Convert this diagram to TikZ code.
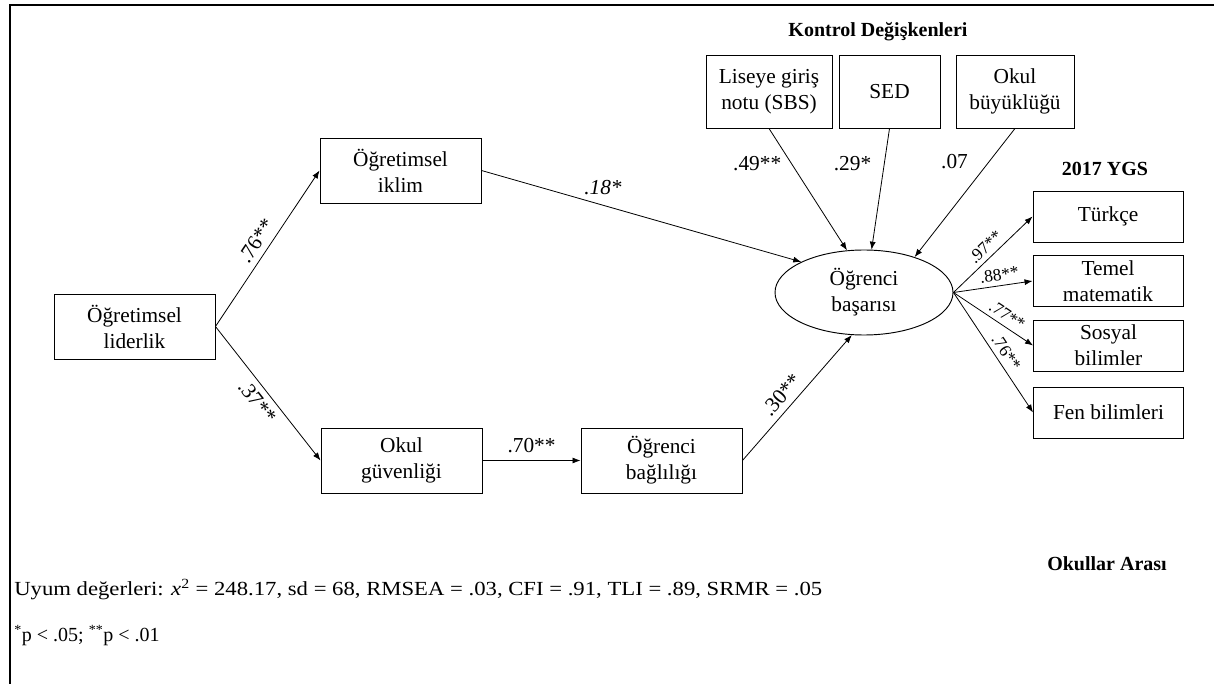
\documentclass[tikz,border=0pt]{standalone}
\usepackage{fontspec}
\setmainfont{Liberation Serif}
\usetikzlibrary{arrows.meta,shapes.geometric}
\begin{document}
\begin{tikzpicture}[x=0.75pt,y=-0.75pt,
  every node/.style={inner sep=0pt},
  box/.style={draw, line width=0.7pt, align=center, font=\fontsize{16}{19.5}\selectfont},
  leftbox/.style={box, minimum width=120.75pt, minimum height=48.75pt},
  ctrlbox/.style={box, minimum height=54.75pt},
  ygsbox/.style={box, minimum width=112.5pt, minimum height=38.25pt},
  arr/.style={-{Latex[length=6pt,width=4.5pt]}, line width=0.6pt},
  lab/.style={font=\fontsize{16}{19}\selectfont, inner sep=1.5pt},
  slab/.style={font=\fontsize{13}{15}\selectfont, inner sep=1.5pt},
  ttl/.style={font=\fontsize{15}{18}\selectfont\bfseries},
  foot/.style={font=\fontsize{15}{18}\selectfont, anchor=west}]
\useasboundingbox (0,0) rectangle (1214,684);
% frame
\draw[line width=2pt] (10,684) -- (10,5) -- (1214,5);

% titles
\node[ttl] (tkontrol) at (878,32) {Kontrol Değişkenleri};
\node[ttl] (tygs) at (1105,169) {2017 YGS};
\node[ttl] (tokul) at (1107,564) {Okullar Arası};

% left boxes
\node[leftbox] (lid) at (134.5,326.5) {Öğretimsel\\liderlik};
\node[leftbox] (ikl) at (400.5,170.5) {Öğretimsel\\iklim};
\node[leftbox] (guv) at (401.5,460.5) {Okul\\güvenliği};
\node[leftbox] (bag) at (661.5,460.5) {Öğrenci\\bağlılığı};

% control boxes
\node[ctrlbox, minimum width=94.5pt] (sbs) at (769,91.5) {Liseye giriş\\notu (SBS)};
\node[ctrlbox, minimum width=75.75pt] (sed) at (889.5,91.5) {SED};
\node[ctrlbox, minimum width=88.5pt] (buy) at (1015,91.5) {Okul\\büyüklüğü};

% outcome ellipse
\node[draw, ellipse, line width=0.7pt, minimum width=133.5pt, minimum height=63.75pt, align=center,
      font=\fontsize{16}{19.5}\selectfont] (ell) at (864,292.5) {Öğrenci\\başarısı};

% YGS boxes
\node[ygsbox] (tur) at (1108,216.5) {Türkçe};
\node[ygsbox] (mat) at (1108,281) {Temel\\matematik};
\node[ygsbox] (sos) at (1108.5,345.5) {Sosyal\\bilimler};
\node[ygsbox] (fen) at (1108.5,412.5) {Fen bilimleri};

% paths
\draw[arr] (lid.east) -- node[lab, sloped, above=3pt, pos=0.5] {.76**} (ikl.west);
\draw[arr] (lid.east) -- node[lab, sloped, below=3pt, pos=0.5] {.37**} (guv.west);
\draw[arr] (ikl.east) -- node[lab, above=6pt, pos=0.38] {\textit{.18*}} (ell.154);
\draw[arr] (guv.east) -- node[lab, above=4pt, pos=0.5] {.70**} (bag.west);
\draw[arr] (bag.east) -- node[lab, sloped, above=3pt, pos=0.45] {.30**} (ell.254);

\draw[arr] (sbs.south) -- node[lab, left=6pt, pos=0.29] {.49**} (ell.112);
\draw[arr] (sed.south) -- node[lab, left=8pt, pos=0.29] {.29*} (ell.80);
\draw[arr] (buy.south) -- node[lab, left=14pt, pos=0.26] {.07} (ell.35);

\draw[arr] (ell.east) -- node[slab, sloped, above=2pt, pos=0.5] {.97**} (tur.west);
\draw[arr] (ell.east) -- node[slab, sloped, above=2pt, pos=0.6] {.88**} (mat.west);
\draw[arr] (ell.east) -- node[slab, sloped, above=2pt, pos=0.6] {.77**} (sos.west);
\draw[arr] (ell.east) -- node[slab, sloped, above=2pt, pos=0.55] {.76**} (fen.west);

% footnotes
\node[foot] (fit) at (14,590) {\resizebox{606pt}{\height}{Uyum değerleri: \textit{x}\textsuperscript{2} = 248.17, sd = 68, RMSEA = .03, CFI = .91, TLI = .89, SRMR = .05}};
\node[foot] (sig) at (14,636) {\textsuperscript{*}p < .05; \textsuperscript{**}p < .01};
\end{tikzpicture}
\end{document}
